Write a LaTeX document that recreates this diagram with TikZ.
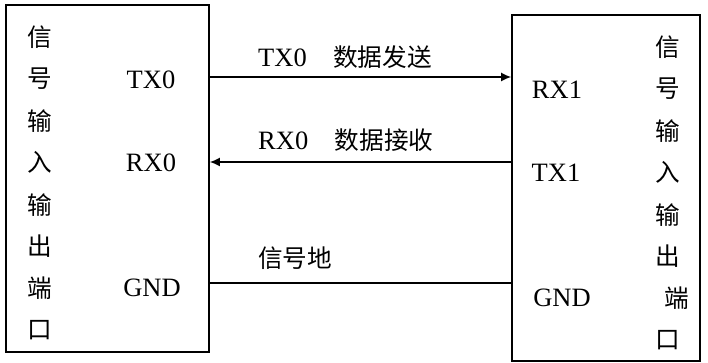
\documentclass[tikz,border=0pt]{standalone}
\usepackage{fontspec}
\setmainfont{Liberation Serif}
\newfontfamily\cjk[Scale=0.93]{Noto Sans CJK SC}
\usetikzlibrary{arrows.meta,positioning}

\begin{document}
\begin{tikzpicture}[x=1pt, y=-1pt,
font=\fontsize{26.5}{30}\selectfont, box/.style={
    draw=black, line width=1.6pt, fill=none, inner sep=0pt},
wire/.style={line width=1.6pt},
sig/.style={-{Latex[length=10pt,width=9pt]}},
lab/.style={anchor=west, inner sep=0pt},
]
\useasboundingbox (0,0) rectangle (708,363);

\node[box, minimum width=203pt, minimum height=347pt] (port0) at (107.5,178.5) {};
\node[box, minimum width=188pt, minimum height=346pt] (port1) at (606,188) {};

% vertical captions
\foreach \c [count=\i] in {信,号,输,入,输,出,端,口}
  \node (cap0-\i) at (40,{37+41.9*(\i-1)}) {\cjk \c};
\foreach \c [count=\i] in {信,号,输,入,输,出}
  \node (cap1-\i) at (668,{47+41.9*(\i-1)}) {\cjk \c};
\node (cap1-7) at (677,298) {\cjk 端};
\node (cap1-8) at (668,340) {\cjk 口};

% pins
\node (tx0) at (151,80) {TX0};
\node (rx0) at (151,163) {RX0};
\node (gnd0) at (152,288) {GND};
\node (rx1) at (557,90) {RX1};
\node (tx1) at (556,173) {TX1};
\node (gnd1) at (562,298) {GND};

\coordinate (w1) at (0,77);
\coordinate (w2) at (0,162);
\coordinate (w3) at (0,283);

\draw[wire,sig] (port0.east |- w1) to (port1.west |- w1);
\draw[wire,sig] (port1.west |- w2) to (port0.east |- w2);
\draw[wire] (port0.east |- w3) to (port1.west |- w3);

\node[lab] (l1) at (258,57) {TX0\quad{\cjk 数据发送}};
\node[lab] (l2) at (258,140) {RX0\quad{\cjk 数据接收}};
\node[lab] (l3) at (258,258) {\cjk 信号地};
%\draw (tx0) to (rx1);

\end{tikzpicture}
\end{document}
